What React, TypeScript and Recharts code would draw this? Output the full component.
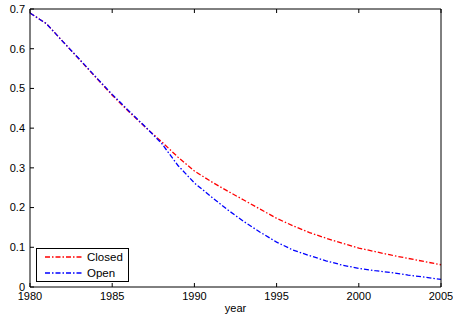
import React from 'react';
import { LineChart, Line, XAxis, YAxis } from 'recharts';

const years = [1980, 1981, 1982, 1983, 1984, 1985, 1986, 1987, 1988, 1989, 1990, 1991, 1992, 1993, 1994, 1995, 1996, 1997, 1998, 1999, 2000, 2001, 2002, 2003, 2004, 2005];
const closedValues = [0.69, 0.663, 0.618, 0.573, 0.528, 0.483, 0.442, 0.403, 0.366, 0.327, 0.292, 0.266, 0.242, 0.219, 0.196, 0.173, 0.154, 0.137, 0.123, 0.11, 0.098, 0.089, 0.08, 0.072, 0.064, 0.056];
const openValues = [0.69, 0.663, 0.618, 0.574, 0.529, 0.485, 0.444, 0.404, 0.362, 0.306, 0.262, 0.228, 0.195, 0.165, 0.138, 0.113, 0.093, 0.079, 0.066, 0.055, 0.047, 0.041, 0.036, 0.03, 0.025, 0.019];
const xTicks = [1980, 1985, 1990, 1995, 2000, 2005];
const yTicks = [0, 0.1, 0.2, 0.3, 0.4, 0.5, 0.6, 0.7];
const seriesNames = ['Closed', 'Open'];
const seriesColors = ['#ff0000', '#0000ff'];

const data = years.map((y, i) => ({ year: y, closed: closedValues[i], open: openValues[i] }));

const FONT = '"Liberation Sans", Arial, sans-serif';
const DASH = '5 2 1.5 2';

const LegendBox = () => (
  <div
    style={{
      position: 'absolute',
      left: 36,
      top: 248,
      border: '1px solid #000',
      background: '#fff',
      width: 93,
      height: 34,
      fontFamily: FONT,
      fontSize: 11.5,
      boxSizing: 'border-box',
      paddingTop: 0,
    }}
  >
    {seriesNames.map((name, i) => (
      <div key={name} style={{ display: 'flex', alignItems: 'center', height: 16 }}>
        <svg width={50} height={16} style={{ display: 'block' }}>
          <line x1={8} x2={46} y1={8} y2={8} stroke={seriesColors[i]} strokeWidth={1.3} strokeDasharray={DASH} />
        </svg>
        <span style={{ lineHeight: '16px' }}>{name}</span>
      </div>
    ))}
  </div>
);

export default function App() {
  return (
    <div style={{ position: 'absolute', left: 0, top: 0, width: 453, height: 320, background: '#fff' }}>
      <LineChart width={453} height={320} data={data} margin={{ top: 8, right: 11, bottom: 0, left: 0 }}>
        <XAxis
          xAxisId="b"
          dataKey="year"
          type="number"
          domain={[1980, 2005]}
          ticks={xTicks}
          interval={0}
          height={33}
          tickSize={-4}
          tickMargin={9}
          stroke="#000"
          tick={{ fill: '#000', fontSize: 11, fontFamily: FONT }}
          label={{ value: 'year', position: 'insideBottom', offset: 8, fill: '#000', fontSize: 11, fontFamily: FONT }}
        />
        <XAxis
          xAxisId="t"
          orientation="top"
          dataKey="year"
          type="number"
          domain={[1980, 2005]}
          ticks={xTicks}
          interval={0}
          height={1}
          tickSize={-4}
          stroke="#000"
          tick={() => <g />}
        />
        <YAxis
          yAxisId="l"
          type="number"
          domain={[0, 0.7]}
          ticks={yTicks}
          interval={0}
          width={30}
          tickSize={-4}
          tickMargin={9}
          stroke="#000"
          tick={{ fill: '#000', fontSize: 11, fontFamily: FONT }}
          tickFormatter={(v: number) => (v === 0 ? '0' : String(Math.round(v * 10) / 10))}
        />
        <YAxis
          yAxisId="r"
          orientation="right"
          type="number"
          domain={[0, 0.7]}
          ticks={yTicks}
          interval={0}
          width={1}
          tickSize={-4}
          stroke="#000"
          tick={() => <g />}
        />
        <Line
          xAxisId="b"
          yAxisId="l"
          type="linear"
          dataKey="closed"
          name={seriesNames[0]}
          stroke={seriesColors[0]}
          strokeWidth={1.3}
          strokeDasharray={DASH}
          dot={false}
          isAnimationActive={false}
        />
        <Line
          xAxisId="b"
          yAxisId="l"
          type="linear"
          dataKey="open"
          name={seriesNames[1]}
          stroke={seriesColors[1]}
          strokeWidth={1.3}
          strokeDasharray={DASH}
          dot={false}
          isAnimationActive={false}
        />
      </LineChart>
      <LegendBox />
    </div>
  );
}
